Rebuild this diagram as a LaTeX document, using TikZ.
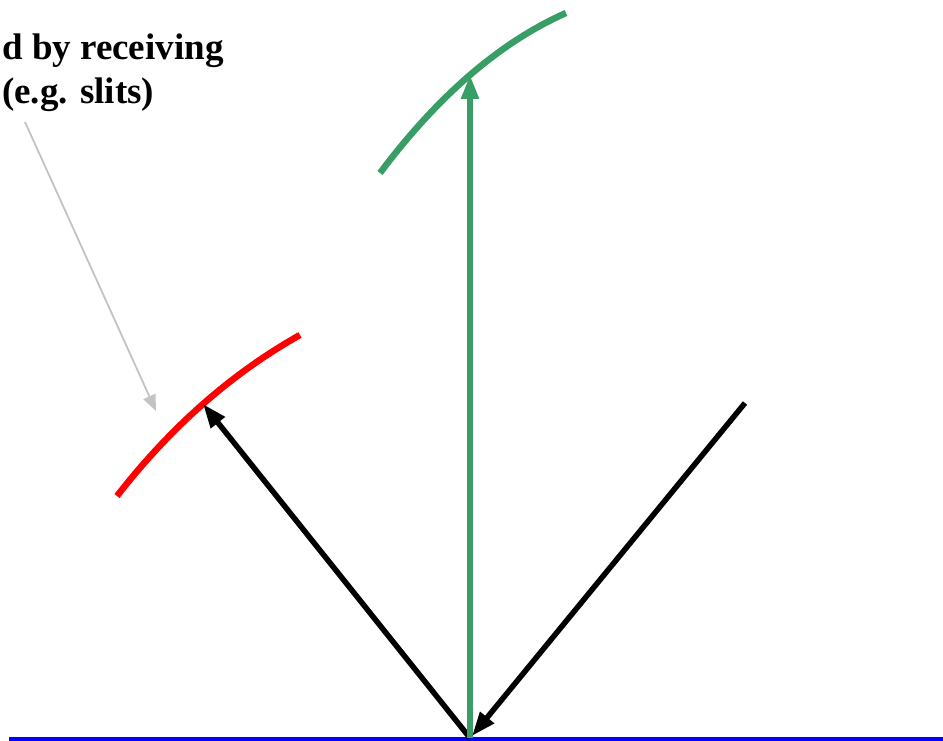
\documentclass[tikz,border=0pt]{standalone}
\usepackage{fontspec}
\setmainfont{Liberation Serif}
\usetikzlibrary{arrows.meta}
\definecolor{rgreen}{RGB}{56,158,102}
\definecolor{rgray}{RGB}{195,195,195}
\begin{document}
\begin{tikzpicture}[x=1pt,y=-1pt,
  ray/.style={line width=5.5pt,-{Triangle[length=24pt,width=17pt]}},
  front/.style={line width=6.5pt},
  pointer/.style={rgray,line width=1.8pt,-{Triangle[length=16pt,width=13pt]}}]
\useasboundingbox (0,0) rectangle (943,741);
% points
\coordinate (O) at (470,738);
\coordinate (redhit) at (203,404);
\coordinate (greenhit) at (470,75);
\coordinate (inc) at (745,403);
\coordinate (incend) at (472,736);
\coordinate (r1) at (117,496);
\coordinate (r2) at (300,335);
\coordinate (g1) at (380,173);
\coordinate (g2) at (566,13);
\coordinate (gs) at (25,122);
\coordinate (gt) at (156,411);
\coordinate (bl) at (9,739);
\coordinate (br) at (943,739);
% text
\node[anchor=north west,align=left,inner sep=0pt,font=\bfseries\fontsize{37}{44}\selectfont] (lbl) at (2,34) {d by receiving\\(e.g. slits)};
% surface
\draw[blue,line width=5pt] (bl) -- (br);
% wavefronts
\draw[red,front] (r1) .. controls (170.7,427) and (231.7,373.3) .. (r2);
\draw[rgreen,front] (g1) .. controls (438,95.7) and (500,42.3) .. (g2);
% rays
\draw[ray,black] (O) -- (redhit);
\draw[ray,rgreen] (O) -- (greenhit);
\draw[ray,black] (inc) -- (incend);
% pointer
\draw[pointer] (gs) -- (gt);
\end{tikzpicture}
\end{document}
